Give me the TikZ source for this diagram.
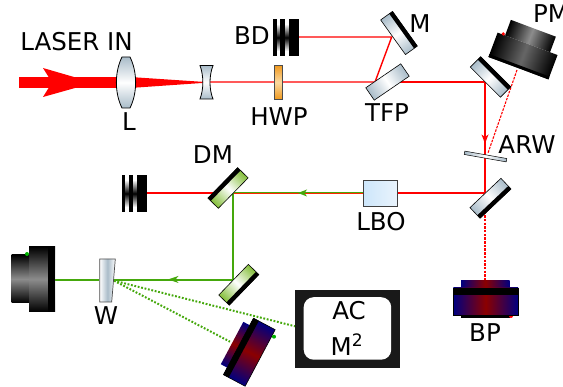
\documentclass[tikz,border=0pt]{standalone}
\usepackage{fontspec}
\setmainfont{DejaVu Sans}
\definecolor{glass}{HTML}{A9BCC9}
\definecolor{redb}{HTML}{FF0000}
\definecolor{greenb}{HTML}{45A80C}
\definecolor{greenm}{HTML}{84BE3A}
\definecolor{navy}{HTML}{000080}
\definecolor{dred}{HTML}{8B0000}
\definecolor{lbol}{HTML}{CDE6FB}
\definecolor{lbor}{HTML}{EAF4FC}
\definecolor{wpe}{HTML}{F09A20}
\definecolor{wpm}{HTML}{FBD9A0}
\tikzset{
  lbl/.style={font=\fontsize{24.5}{28}\selectfont,inner sep=0pt,text=black},
  redray/.style={color=redb,line width=1.4pt},
  greenray/.style={color=greenb,line width=1.4pt},
  reddash/.style={color=redb,line width=1.1pt,dash pattern=on 2.5pt off 1.2pt},
  greendot/.style={color=greenb,line width=2pt,dash pattern=on 1.8pt off 1.7pt},
  glassfill/.style={left color=glass,right color=glass,middle color=white},
  greenfill/.style={left color=greenm,right color=greenm,middle color=white},
  blackfill/.style={left color=black,right color=black,middle color=white!55!black},
  hotfill/.style={left color=navy,right color=navy,middle color=dred},
}
\newcommand{\mirrorpart}[4]{%
  \begin{scope}[transform canvas={shift={#1},rotate=#2}]
    \path[#3,draw=black,line width=.6pt] (-21.3,-7.3) rectangle (21.3,7.3);
    \fill[black] (-21.3,#4*3.3) rectangle (21.3,#4*7.5);
  \end{scope}}
\newcommand{\dumppart}[2]{%
  \path[top color=white,bottom color=white,middle color=black] (#1+3,#2+5) rectangle (#1+16,#2+32);
  \fill[black] (#1,#2) rectangle (#1+3.6,#2+37);
  \fill[black] (#1+7,#2) rectangle (#1+11.5,#2+37);
  \fill[black] (#1+15.5,#2) rectangle (#1+25.5,#2+37);}
\begin{document}
\begin{tikzpicture}[x=1pt,y=-1pt]
\useasboundingbox (0,0) rectangle (563,387);
\clip (0,0) rectangle (563,387);
\coordinate (fp) at (202,82);
\coordinate (tfpin) at (375,82);
\coordinate (mhit) at (391.7,37);
\coordinate (bdtop) at (298,37);
\coordinate (turn1) at (485,82);
\coordinate (turn2) at (485,193);
\coordinate (bpin) at (485,281);
\coordinate (lboR) at (397.7,193);
\coordinate (lboL) at (363.3,193);
\coordinate (dmhit) at (233,193);
\coordinate (bdleft) at (147,193);
\coordinate (lowm) at (233,280);
\coordinate (cam) at (55,280);
\coordinate (whit) at (114,280.7);
\coordinate (acin) at (296,326.5);
\coordinate (detin) at (230,341.7);
\coordinate (pmout) at (517,70);
\coordinate (pmend) at (488,153);
% RAYS
\fill[redb] (19,77.3) rectangle (120,88);
\fill[redb] (43,68) -- (75,77.3) -- (75,88) -- (43,97) -- (52,82.5) -- cycle;
\fill[redb] (130,77) -- (202,81.8) -- (202,83) -- (130,88) -- cycle;
\draw[redray] (fp) -- (tfpin) -- (mhit) -- (bdtop);
\draw[redray] (tfpin) -- (turn1) -- (turn2) -- (lboR);
\fill[redb] (485,143.5) -- (481.5,134.5) -- (485,137) -- (488.5,134.5) -- cycle;
\draw[reddash] (pmout) -- (pmend);
\draw[reddash] (turn2) -- (bpin);
\draw[redray] (bdleft) -- (dmhit);
\draw[color=redb!70!orange,line width=1pt] ([yshift=-.6pt]lboL) -- ([yshift=-.6pt]dmhit);
\draw[color=greenb,line width=.8pt] ([yshift=.6pt]lboL) -- ([yshift=.6pt]dmhit);
\fill[greenb] (298,193) -- (307,189.5) -- (304.5,193) -- (307,196.5) -- cycle;
\draw[greenray] (dmhit) -- (lowm) -- (cam);
\fill[greenb] (168,279.5) -- (178.5,276) -- (175.5,279.5) -- (178.5,283) -- cycle;
\draw[greendot] (whit) -- (acin);
\draw[greendot] (whit) -- (detin);
% L lens
\path[top color=glass,bottom color=glass,middle color=white,draw=black,line width=.8pt]
  (122,57) -- (130,57) .. controls (137.5,72) and (137.5,93) .. (130,108) -- (122,108) .. controls (114.5,93) and (114.5,72) .. (122,57) -- cycle;
% concave lens
\path[top color=glass,bottom color=glass,middle color=white,draw=black,line width=.8pt]
  (200,65.5) -- (213,65.5) .. controls (209,76) and (209,89) .. (213,99) -- (200,99) .. controls (203.8,89) and (203.8,76) .. (200,65.5) -- cycle;
% HWP
\path[top color=wpe,bottom color=wpe,middle color=wpm,draw=black!70,line width=.6pt]
  (274.5,65.5) rectangle (282,99);
% Beam dumps
\dumppart{273}{19}
\dumppart{121.5}{175}
% mirrors
\mirrorpart{(399,33)}{-54.4}{glassfill}{-1}
\begin{scope}[transform canvas={shift={(387.5,82)},rotate=34.4}]
  \path[glassfill,draw=black,line width=.6pt] (-21.2,-7.5) rectangle (21.2,7.5);
\end{scope}
\mirrorpart{(490.5,77)}{-45}{glassfill}{-1}
\mirrorpart{(490.5,198.3)}{43.4}{glassfill}{1}
\mirrorpart{(228,188)}{45.6}{greenfill}{-1}
\mirrorpart{(238.8,284.8)}{46}{greenfill}{1}
% ARW
\begin{scope}[transform canvas={shift={(485.5,156.5)},rotate=-10}]
  \path[glassfill,draw=black,line width=.5pt] (-21.3,-1.7) rectangle (21.3,1.7);
\end{scope}
% LBO
\path[left color=lbol,right color=lbor,draw=black!75,line width=.7pt]
  (363.3,180.7) rectangle (397.7,206.3);
% W
\path[left color=white,right color=white,middle color=glass,draw=black!70,line width=.7pt]
  (99.7,259) -- (115.3,259) -- (111.7,302) -- (99.7,302) -- cycle;
% PM
\begin{scope}[transform canvas={shift={(523,56)},rotate=-20.5}]
  \path[blackfill] (-24,-29.6) rectangle (24,-13);
  \path[left color=black,right color=black,middle color=white!40!black] (-32,-13) rectangle (32,13);
  \fill[black] (-32,10) rectangle (32,13);
\end{scope}
\fill[redb] (503.3,34) circle (1.8);
% BP
\path[hotfill] (461,281) rectangle (509.7,288);
\fill[black] (461,315) rectangle (509.7,318);
\fill[redb] (511,316) circle (2);
\path[hotfill,draw=black,line width=.7pt] (453.3,288) rectangle (518,315);
\fill[black] (453,288) rectangle (518.3,295);
% Left camera
\path[top color=black,bottom color=black,middle color=white!55!black] (11.7,255) rectangle (29,303);
\path[top color=black,bottom color=black,middle color=white!55!black] (29,246.7) rectangle (55,311.7);
\fill[black] (48,246.7) rectangle (55,311.7);
\fill[green!70!black] (27,254) circle (2);
% lower detector
\begin{scope}[transform canvas={shift={(249.3,352.2)},rotate=62}]
  \path[hotfill] (-24,-19.5) rectangle (24,-12);
  \path[hotfill,draw=black,line width=.6pt] (-32,-12.3) rectangle (32,12.3);
  \fill[black] (-32,-12.3) rectangle (32,-6.3);
\end{scope}
\fill[green!70!black] (274,336.7) circle (2);
% AC box
\node[draw=none,fill=black!90,minimum width=104.7pt,minimum height=78.3pt,inner sep=0pt,anchor=north west] (acbox) at (295,290) {};
\node[fill=white,rounded corners=10pt,minimum width=87.5pt,minimum height=62.5pt,inner sep=0pt,anchor=north west] (acpanel) at (303.5,297) {};
\node[lbl] (ac) at (349,311) {AC};
\node[lbl] (m2) at (347,345) {M\textsuperscript{2}};
% Labels
\node[lbl] (laser) at (76.5,42) {LASER IN};
\node[lbl] (L) at (129,122) {L};
\node[lbl] (BD) at (252,36) {BD};
\node[lbl] (Mx) at (420,24) {M};
\node[lbl] (HWP) at (279,117) {HWP};
\node[lbl] (TFP) at (387,113) {TFP};
\node[lbl,anchor=west] (PM) at (533,14) {PM};
\node[lbl] (ARW) at (527,145) {ARW};
\node[lbl] (DM) at (213,155) {DM};
\node[lbl] (LBO) at (381,222) {LBO};
\node[lbl] (Wx) at (106,316) {W};
\node[lbl] (BP) at (485,333) {BP};
\end{tikzpicture}
\end{document}
